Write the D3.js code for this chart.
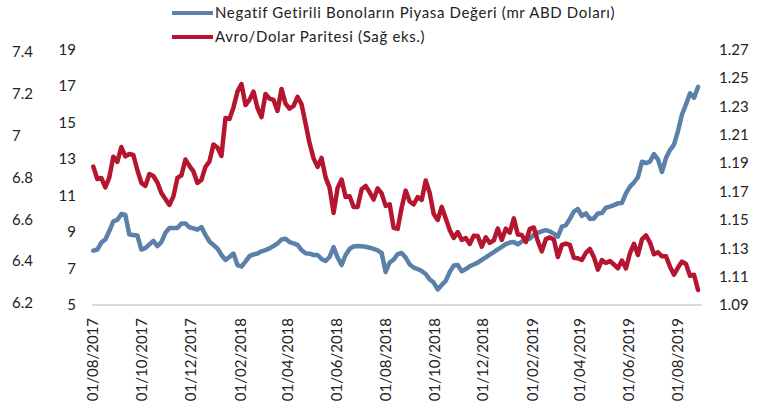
<!DOCTYPE html>
<meta charset="utf-8">
<script src="https://d3js.org/d3.v7.min.js"></script>
<style>
body { margin: 0; padding: 0; background: #fff; }
text { font-family: Lato, 'Open Sans', sans-serif; fill: #222; }
</style>
<body>
<div id="chart"></div>
<script>

// series names (legend)
var seriesNames = ["Negatif Getirili Bonoların Piyasa Değeri (mr ABD Doları)", "Avro/Dolar Paritesi (Sağ eks.)"];

// one reading every 5 days starting 01/08/2017
var startDate = "2017-08-01", stepDays = 5;

// market value of negative yielding bonds (left axis, trillion USD)
var bondValue = [
  7.98, 8.04, 8.42, 8.59, 9.05, 9.58, 9.66, 9.99, 9.93, 8.86,
  8.84, 8.81, 8.04, 8.12, 8.32, 8.51, 8.23, 8.45, 8.95, 9.22,
  9.22, 9.22, 9.47, 9.47, 9.26, 9.20, 9.13, 9.27, 8.84, 8.48,
  8.29, 8.10, 7.74, 7.47, 7.63, 7.82, 7.19, 7.11, 7.38, 7.68,
  7.77, 7.82, 7.94, 8.01, 8.10, 8.23, 8.37, 8.59, 8.63, 8.45,
  8.38, 8.30, 8.01, 7.83, 7.81, 7.74, 7.74, 7.52, 7.41, 7.63,
  8.18, 7.60, 7.19, 7.74, 8.07, 8.21, 8.23, 8.22, 8.19, 8.14,
  8.07, 7.99, 7.85, 6.81, 7.33, 7.49, 7.79, 7.85, 7.60, 7.22,
  7.05, 6.97, 6.86, 6.70, 6.40, 6.23, 5.85, 6.10, 6.32, 6.81,
  7.16, 7.19, 6.84, 6.97, 7.12, 7.22, 7.32, 7.47, 7.61, 7.76,
  7.90, 8.05, 8.19, 8.34, 8.42, 8.45, 8.32, 8.48, 8.56, 8.64,
  8.85, 8.96, 9.04, 9.10, 9.03, 8.91, 8.75, 9.29, 9.37, 9.72,
  10.12, 10.26, 9.88, 10.02, 9.71, 9.74, 10.02, 10.04, 10.33, 10.39,
  10.47, 10.57, 10.59, 11.11, 11.49, 11.71, 12.01, 12.85, 12.78, 12.86,
  13.27, 12.98, 12.29, 13.05, 13.49, 13.79, 14.53, 15.44, 15.99, 16.60,
  16.35, 16.95
];

// EUR/USD (right axis)
var eurUsd = [
  1.1875, 1.1788, 1.1795, 1.1728, 1.1799, 1.1945, 1.1908, 1.2013, 1.1947, 1.1964,
  1.1957, 1.1851, 1.1760, 1.1739, 1.1823, 1.1809, 1.1763, 1.1689, 1.1647, 1.1605,
  1.1665, 1.1795, 1.1813, 1.1925, 1.1880, 1.1841, 1.1760, 1.1781, 1.1873, 1.1911,
  1.2031, 1.2009, 1.1950, 1.2218, 1.2211, 1.2292, 1.2403, 1.2457, 1.2309, 1.2345,
  1.2403, 1.2288, 1.2223, 1.2387, 1.2354, 1.2345, 1.2267, 1.2422, 1.2319, 1.2283,
  1.2302, 1.2366, 1.2314, 1.2179, 1.2040, 1.1933, 1.1873, 1.1936, 1.1799, 1.1727,
  1.1548, 1.1725, 1.1784, 1.1661, 1.1666, 1.1591, 1.1591, 1.1715, 1.1739, 1.1694,
  1.1643, 1.1722, 1.1686, 1.1598, 1.1610, 1.1443, 1.1436, 1.1587, 1.1706, 1.1629,
  1.1608, 1.1661, 1.1640, 1.1777, 1.1689, 1.1541, 1.1499, 1.1591, 1.1510, 1.1429,
  1.1372, 1.1414, 1.1358, 1.1372, 1.1330, 1.1388, 1.1386, 1.1311, 1.1377, 1.1337,
  1.1355, 1.1439, 1.1358, 1.1438, 1.1410, 1.1510, 1.1397, 1.1393, 1.1344, 1.1437,
  1.1446, 1.1349, 1.1278, 1.1364, 1.1376, 1.1362, 1.1238, 1.1323, 1.1333, 1.1323,
  1.1233, 1.1229, 1.1217, 1.1268, 1.1295, 1.1237, 1.1149, 1.1216, 1.1196, 1.1210,
  1.1185, 1.1159, 1.1213, 1.1157, 1.1264, 1.1331, 1.1252, 1.1362, 1.1390, 1.1340,
  1.1258, 1.1272, 1.1243, 1.1243, 1.1170, 1.1114, 1.1164, 1.1206, 1.1189, 1.1106,
  1.1113, 1.1006
];

// tick labels
var outerTicks = [6.2, 6.4, 6.6, 6.8, 7, 7.2, 7.4];
var leftTicks = [5, 7, 9, 11, 13, 15, 17, 19];
var rightTicks = [1.09, 1.11, 1.13, 1.15, 1.17, 1.19, 1.21, 1.23, 1.25, 1.27];
var dateTicks = ["01/08/2017", "01/10/2017", "01/12/2017", "01/02/2018", "01/04/2018",
                 "01/06/2018", "01/08/2018", "01/10/2018", "01/12/2018", "01/02/2019",
                 "01/04/2019", "01/06/2019", "01/08/2019"];

var blue = "#5b80a9", red = "#b5152f";

var width = 773, height = 405;
var svg = d3.select("#chart").append("svg")
  .attr("width", width)
  .attr("height", height);

var parseDash = d3.timeParse("%Y-%m-%d"),
    parseTick = d3.timeParse("%d/%m/%Y");
var t0 = parseDash(startDate);
var dates = bondValue.map(function(d, i) { return d3.timeDay.offset(t0, i * stepDays); });

var x = d3.scaleTime()
  .domain([parseTick("01/08/2017"), parseTick("01/08/2019")])
  .range([93.3, 678]);

var yOuter = d3.scaleLinear().domain([6.2, 7.4]).range([303, 51.7]);
var yLeft = d3.scaleLinear().domain([5, 19]).range([305, 49.5]);
var yRight = d3.scaleLinear().domain([1.09, 1.27]).range([305, 49.5]);

// x axis line
svg.append("line")
  .attr("x1", x(dates[0]) - 1)
  .attr("x2", x(dates[dates.length - 1]) + 4)
  .attr("y1", 305).attr("y2", 305)
  .attr("stroke", "#d9d9d9")
  .attr("stroke-width", 2);

// date labels, rotated
svg.append("g")
  .selectAll("text")
  .data(dateTicks)
  .enter()
  .append("text")
    .attr("transform", function(d) { return "translate(" + (x(parseTick(d)) + 5) + ",318) rotate(-90)"; })
    .attr("text-anchor", "end")
    .style("font-size", "15px")
    .text(function(d) { return d; });

// outer left axis (no series)
var gOuter = svg.append("g")
  .attr("transform", "translate(12,0)")
  .call(d3.axisRight(yOuter).tickValues(outerTicks).tickSize(0).tickPadding(0)
    .tickFormat(function(d) { return String(+d.toFixed(1)); }));

// left axis
var gLeft = svg.append("g")
  .attr("transform", "translate(76,0)")
  .call(d3.axisLeft(yLeft).tickValues(leftTicks).tickSize(0).tickPadding(0));

// right axis
var gRight = svg.append("g")
  .attr("transform", "translate(719,0)")
  .call(d3.axisRight(yRight).tickValues(rightTicks).tickSize(0).tickPadding(0)
    .tickFormat(d3.format(".2f")));

[gOuter, gLeft, gRight].forEach(function(g) {
  g.select(".domain").remove();
  g.selectAll("text")
    .style("font-family", "Lato, 'Open Sans', sans-serif")
    .style("font-size", "15px")
    .attr("fill", "#222");
});

// lines
var bondLine = d3.line()
  .x(function(d, i) { return x(dates[i]); })
  .y(function(d) { return yLeft(d); });

var fxLine = d3.line()
  .x(function(d, i) { return x(dates[i]); })
  .y(function(d) { return yRight(d); });

svg.append("path")
  .datum(bondValue)
  .attr("d", bondLine)
  .attr("fill", "none")
  .attr("stroke", blue)
  .attr("stroke-width", 4.5)
  .attr("stroke-linejoin", "round")
  .attr("stroke-linecap", "round");

svg.append("path")
  .datum(eurUsd)
  .attr("d", fxLine)
  .attr("fill", "none")
  .attr("stroke", red)
  .attr("stroke-width", 4.5)
  .attr("stroke-linejoin", "round")
  .attr("stroke-linecap", "round");

// legend
var legend = svg.append("g");
var legendColors = [blue, red];
legend.selectAll("line")
  .data(seriesNames)
  .enter()
  .append("line")
    .attr("x1", 172).attr("x2", 213)
    .attr("y1", function(d, i) { return 13 + i * 24; })
    .attr("y2", function(d, i) { return 13 + i * 24; })
    .attr("stroke", function(d, i) { return legendColors[i]; })
    .attr("stroke-width", 4);

legend.selectAll("text")
  .data(seriesNames)
  .enter()
  .append("text")
    .attr("x", 215)
    .attr("y", function(d, i) { return 13 + i * 24; })
    .attr("dy", "0.35em")
    .style("font-size", "15px")
    .style("letter-spacing", "0.65px")
    .text(function(d) { return d; });

</script>
</body>
